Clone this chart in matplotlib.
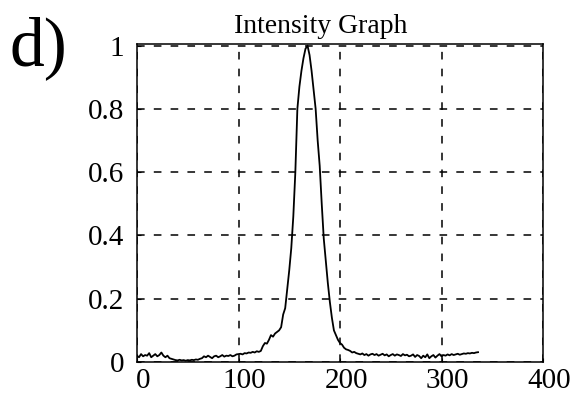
import matplotlib
matplotlib.use("Agg")
import matplotlib.pyplot as plt
import matplotlib.transforms as mtransforms

# ---- data ----
x_positions = list(range(0, 338, 2))
intensity = [
    # 0-30
    0.020, 0.015, 0.025, 0.018, 0.022, 0.020, 0.028, 0.015, 0.020, 0.025, 0.018, 0.022, 0.030, 0.020, 0.015, 0.020,
    # 32-60
    0.012, 0.010, 0.008, 0.006, 0.005, 0.007, 0.005, 0.006, 0.004, 0.006, 0.005, 0.007, 0.006, 0.008, 0.007,
    # 62-98
    0.010, 0.012, 0.018, 0.015, 0.020, 0.016, 0.012, 0.018, 0.020, 0.015, 0.018, 0.022, 0.017, 0.020, 0.019, 0.022, 0.018, 0.020, 0.024,
    # 100-120
    0.025, 0.026, 0.024, 0.028, 0.027, 0.030, 0.029, 0.032, 0.030, 0.034, 0.032,
    # 122-138
    0.035, 0.050, 0.060, 0.058, 0.070, 0.085, 0.080, 0.090, 0.095,
    # 140-212
    0.100, 0.110, 0.150, 0.170, 0.230, 0.290, 0.360, 0.460, 0.600, 0.800,
    0.870, 0.920, 0.960, 0.990, 1.000, 0.970, 0.920, 0.860, 0.800, 0.700,
    0.620, 0.500, 0.390, 0.320, 0.250, 0.190, 0.140, 0.100, 0.085, 0.070,
    0.060, 0.055, 0.045, 0.040, 0.038, 0.035, 0.030,
    # 214-336
    0.032, 0.028, 0.026, 0.024, 0.027, 0.022, 0.025, 0.020, 0.024, 0.026,
    0.022, 0.025, 0.020, 0.023, 0.026, 0.021, 0.024, 0.018, 0.022, 0.025,
    0.020, 0.024, 0.022, 0.019, 0.025, 0.021, 0.023, 0.018, 0.020, 0.024,
    0.016, 0.022, 0.019, 0.012, 0.020, 0.015, 0.024, 0.012, 0.018, 0.022,
    0.014, 0.020, 0.025, 0.018, 0.022, 0.020, 0.024, 0.021, 0.025, 0.022,
    0.024, 0.026, 0.023, 0.025, 0.027, 0.026, 0.028, 0.027, 0.029, 0.028,
    0.030, 0.031,
]
x_ticks = [0, 100, 200, 300, 400]
x_ticklabels = ["0", "100", "200", "300", "400"]
y_ticks = [0, 0.2, 0.4, 0.6, 0.8, 1]
y_ticklabels = ["0", "0.2", "0.4", "0.6", "0.8", "1"]
title = "Intensity Graph"
panel_label = "d)"

# ---- figure ----
plt.rcParams['font.family'] = ['Liberation Serif', 'DejaVu Serif']
fig = plt.figure(figsize=(5.71, 4.00), dpi=100)
ax = fig.add_axes([137/571, 38/400, (543-137)/571, (362-44)/400])

ax.plot(x_positions, intensity, color='black', lw=1.3)

ax.set_xlim(0, 400)
ax.set_ylim(0, 1.005)
ax.set_xticks(x_ticks)
ax.set_xticklabels(x_ticklabels)
ax.set_yticks(y_ticks)
ax.set_yticklabels(y_ticklabels)
ax.tick_params(direction='in', length=3, width=0.8, labelsize=21, colors='black')
ax.tick_params(axis='y', pad=9)
ax.tick_params(axis='x', pad=4)

for s in ax.spines.values():
    s.set_color('black')
    s.set_linewidth(1.1)

ax.grid(True, color='black', linestyle=(0, (5, 6)), linewidth=1.1)
ax.set_axisbelow(True)

# shift x tick labels slightly right as in reference
offset = mtransforms.ScaledTranslation(6/100, 0, fig.dpi_scale_trans)
for lbl in ax.get_xticklabels():
    lbl.set_transform(lbl.get_transform() + offset)

fig.text(321/571, (400-33)/400, title, ha='center', va='baseline', fontsize=20)
fig.text(10/571, (400-65)/400, panel_label, ha='left', va='baseline', fontsize=50)

fig.savefig("out.png", dpi=100)
